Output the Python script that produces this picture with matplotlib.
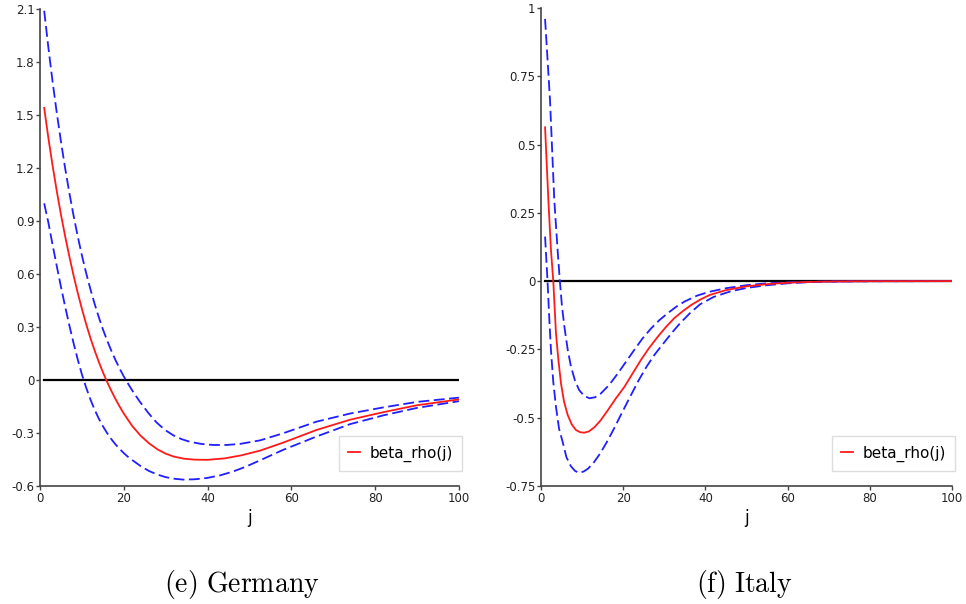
import matplotlib
matplotlib.use("Agg")
import matplotlib.pyplot as plt

plt.rcParams['mathtext.fontset'] = 'cm'

# Germany: j positions and values
de_j_mid = [1, 2, 3, 4, 5, 6, 7, 8, 9, 10, 11, 12, 13, 14, 15, 16, 17, 18, 19, 20,
            22, 24, 26, 28, 30, 32, 34.5, 37, 40, 44, 48, 52.5, 58, 66, 74, 82, 90, 100]
de_mid = [1.54, 1.37, 1.215, 1.07, 0.937, 0.814, 0.70, 0.593, 0.494, 0.403, 0.318,
          0.24, 0.17, 0.105, 0.045, -0.01, -0.06, -0.107, -0.15, -0.19, -0.26, -0.315,
          -0.358, -0.392, -0.417, -0.434, -0.446, -0.451, -0.452, -0.444, -0.427, -0.4,
          -0.355, -0.283, -0.225, -0.182, -0.143, -0.11]
de_j_up = [1, 2, 3, 4, 5, 6, 7, 8, 9, 10, 11, 12, 13, 14, 15, 16, 17, 18, 19, 20, 21,
           22.3, 23.9, 25.8, 27.8, 29.8, 31.8, 33.8, 35.8, 38.5, 41.4, 44.5, 47.7,
           52.5, 58, 66, 74, 82, 90, 100]
de_up = [2.09, 1.882, 1.69, 1.513, 1.35, 1.199, 1.06, 0.932, 0.814, 0.706, 0.607,
         0.517, 0.434, 0.358, 0.288, 0.225, 0.167, 0.114, 0.065, 0.02, -0.02, -0.07,
         -0.125, -0.185, -0.24, -0.282, -0.313, -0.335, -0.35, -0.362, -0.368, -0.368,
         -0.362, -0.342, -0.302, -0.236, -0.19, -0.155, -0.124, -0.1]
de_j_lo = [1, 2, 3, 4, 5, 6, 7, 8, 9, 10, 11, 12, 13, 14, 15, 16, 17, 18, 19, 20, 21,
           22, 24, 26, 28, 30, 32, 34.2, 37, 39.8, 43, 46.1, 49, 52.5, 58, 66, 74, 82,
           90, 100]
de_lo = [1.0, 0.891, 0.766, 0.645, 0.528, 0.416, 0.31, 0.21, 0.117, 0.032, -0.042,
         -0.108, -0.166, -0.217, -0.261, -0.3, -0.334, -0.364, -0.39, -0.414, -0.435,
         -0.453, -0.487, -0.515, -0.535, -0.55, -0.559, -0.564, -0.562, -0.555, -0.54,
         -0.518, -0.492, -0.455, -0.396, -0.32, -0.25, -0.2, -0.158, -0.12]

# Italy
it_j_mid = [1, 1.4, 1.8, 2.43, 3.0, 3.65, 4.25, 4.87, 5.6, 6.5, 7.5, 8.5, 9.5, 10.5,
            11.7, 13.0, 14.5, 16.2, 18.2, 20.3, 22.3, 24.3, 26.3, 28.4, 30.4, 32.4,
            34.5, 36.5, 38.7, 41, 45, 50, 55, 60, 65, 70, 80, 100]
it_mid = [0.563, 0.43, 0.297, 0.114, 0.0, -0.191, -0.29, -0.374, -0.44, -0.49, -0.525,
          -0.545, -0.553, -0.555, -0.55, -0.535, -0.51, -0.474, -0.43, -0.387, -0.338,
          -0.289, -0.245, -0.204, -0.168, -0.136, -0.11, -0.088, -0.068, -0.051,
          -0.033, -0.019, -0.011, -0.006, -0.003, -0.0015, -0.0004, 0.0]
it_j_up = [1, 2.2, 3.24, 4.05, 4.6, 5.1, 5.7, 6.5, 7.3, 8.3, 9.3, 10.5, 11.8, 13.2,
           14.6, 16.6, 18.7, 20.7, 22.7, 24.7, 26.8, 28.8, 30.8, 32.8, 34.9, 38, 41,
           45, 50, 55, 60, 65, 70, 80, 100]
it_up = [0.96, 0.663, 0.297, 0.114, 0.0, -0.09, -0.167, -0.25, -0.313, -0.365, -0.399,
         -0.42, -0.429, -0.425, -0.411, -0.38, -0.338, -0.295, -0.252, -0.21, -0.173,
         -0.143, -0.118, -0.095, -0.075, -0.053, -0.039, -0.026, -0.015, -0.008,
         -0.0045, -0.0025, -0.0013, -0.0003, 0.0]
it_j_lo = [1, 1.6, 2.0, 2.43, 3.0, 3.65, 4.4, 5.3, 6.2, 7.3, 8.3, 9.3, 10.4, 11.5,
           12.9, 14.4, 16, 17.6, 19.6, 21.7, 23.7, 25.7, 27.7, 29.8, 31.8, 33.8, 36.2,
           38.7, 42, 46, 50, 55, 60, 65, 70, 80, 100]
it_lo = [0.163, 0.0, -0.13, -0.252, -0.37, -0.46, -0.54, -0.59, -0.645, -0.678, -0.695,
         -0.702, -0.697, -0.686, -0.663, -0.631, -0.59, -0.545, -0.485, -0.423, -0.365,
         -0.313, -0.268, -0.228, -0.19, -0.155, -0.118, -0.085, -0.058, -0.038,
         -0.025, -0.015, -0.008, -0.004, -0.002, -0.0005, 0.0]

zero_j = [1, 100]
zero_v = [0, 0]

de_yticks = [-0.6, -0.3, 0, 0.3, 0.6, 0.9, 1.2, 1.5, 1.8, 2.1]
de_ylabels = ["-0.6", "-0.3", "0", "0.3", "0.6", "0.9", "1.2", "1.5", "1.8", "2.1"]
it_yticks = [-0.75, -0.5, -0.25, 0, 0.25, 0.5, 0.75, 1]
it_ylabels = ["-0.75", "-0.5", "-0.25", "0", "0.25", "0.5", "0.75", "1"]
xticks = [0, 20, 40, 60, 80, 100]
captions = [r"$\mathrm{(e)\ Germany}$", r"$\mathrm{(f)\ Italy}$"]

fig = plt.figure(figsize=(9.66, 6.04), dpi=100)
ax1 = fig.add_axes([0.0414, 0.1954, 0.4337, 0.7897])
ax2 = fig.add_axes([0.5600, 0.1954, 0.4255, 0.7914])

panels = [
    (ax1, de_j_mid, de_mid, de_j_up, de_up, de_j_lo, de_lo, de_yticks, de_ylabels),
    (ax2, it_j_mid, it_mid, it_j_up, it_up, it_j_lo, it_lo, it_yticks, it_ylabels),
]

for ax, jm, m, ju, u, jl, l, yt, yl in panels:
    ax.plot(zero_j, zero_v, color="black", lw=1.6, zorder=1)
    ax.plot(ju, u, color="#1f1fff", lw=1.3, dashes=(6, 2.5))
    ax.plot(jl, l, color="#1f1fff", lw=1.3, dashes=(6, 2.5))
    ax.plot(jm, m, color="#ff1a1a", lw=1.3, label="beta_rho(j)")
    ax.set_xlim(0, 100)
    ax.set_ylim(yt[0], yt[-1])
    ax.set_xticks(xticks)
    ax.set_xticklabels([str(x) for x in xticks])
    ax.set_yticks(yt)
    ax.set_yticklabels(yl)
    ax.spines["top"].set_visible(False)
    ax.spines["right"].set_visible(False)
    for s in ("left", "bottom"):
        ax.spines[s].set_color("#444444")
        ax.spines[s].set_linewidth(1.2)
    ax.tick_params(direction="out", length=3, width=1, colors="#444444",
                   labelsize=8.5, labelcolor="#222222", pad=1)
    ax.set_xlabel("j", fontsize=12, labelpad=3)
    leg = ax.legend(loc="lower right", fontsize=11, fancybox=False, framealpha=1,
                    handlelength=0.8, handletextpad=0.6, borderpad=0.6,
                    borderaxespad=0, bbox_to_anchor=(1.007, 0.032))
    leg.get_frame().set_edgecolor("#dddddd")

fig.text(0.250, 0.033, captions[0], fontsize=20, ha="center", va="center")
fig.text(0.771, 0.033, captions[1], fontsize=20, ha="center", va="center")

plt.savefig("out.png", dpi=100)
